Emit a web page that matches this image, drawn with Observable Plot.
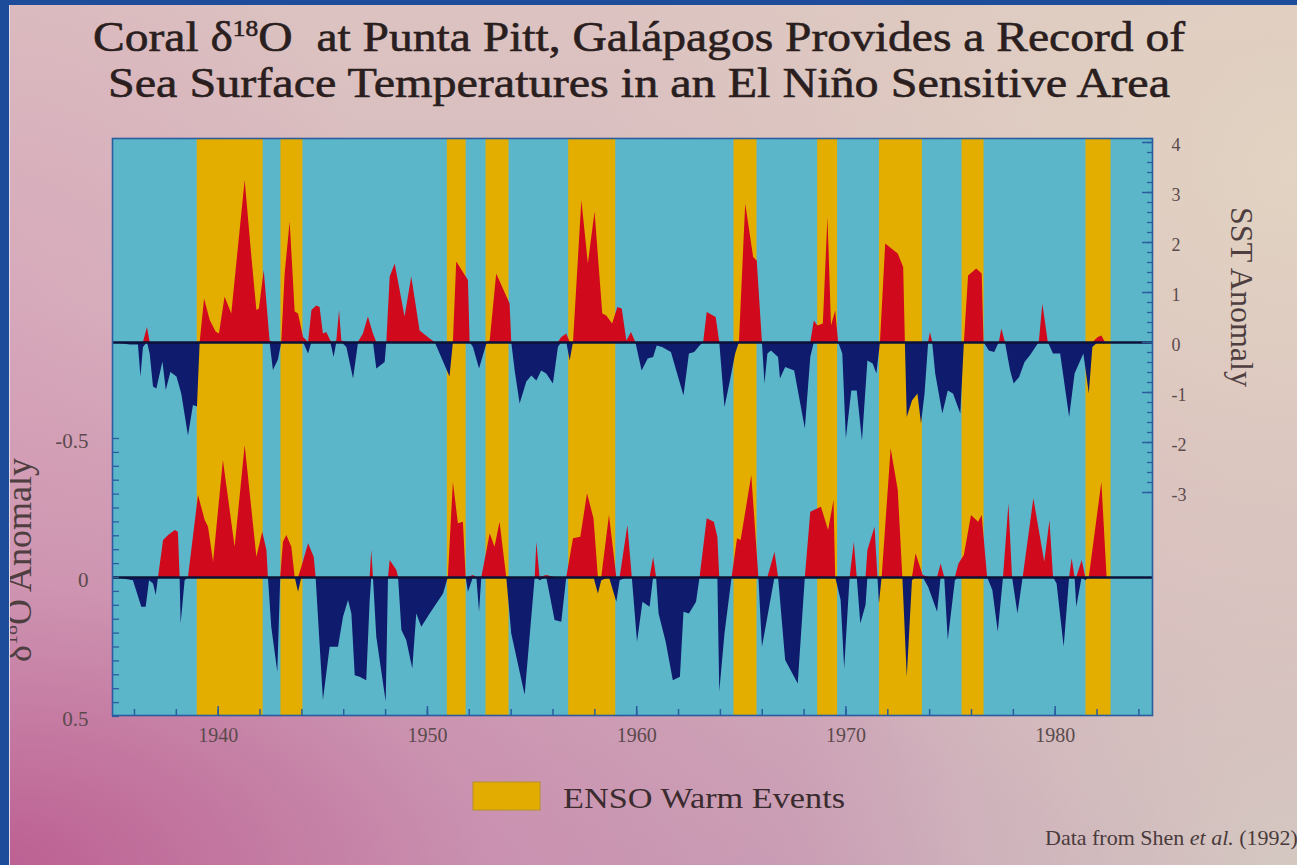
<!DOCTYPE html>
<html><head><meta charset="utf-8">
<script src="https://cdn.jsdelivr.net/npm/d3@7"></script>
<script src="https://cdn.jsdelivr.net/npm/@observablehq/plot@0.6"></script>
<style>
html,body{margin:0;padding:0;width:1297px;height:865px;overflow:hidden;}
#slide{position:relative;width:1297px;height:865px;overflow:hidden;
 background:
  radial-gradient(ellipse 75% 65% at 0% 100%, rgba(186,84,140,0.85), rgba(200,122,166,0.45) 50%, rgba(210,160,185,0) 100%),
  radial-gradient(ellipse 30% 60% at 0% 40%, rgba(214,160,184,0.7), rgba(214,160,184,0) 100%),
  radial-gradient(ellipse 55% 80% at 100% 20%, rgba(226,212,194,0.95), rgba(226,212,194,0) 100%),
  radial-gradient(ellipse 40% 50% at 100% 100%, rgba(214,204,194,0.9), rgba(214,204,194,0) 100%),
  linear-gradient(180deg, #dcc3c1 0%, #d5b4bd 55%, #caa3b7 100%);}
.layer{position:absolute;left:0;top:0;}
#bl{position:absolute;left:0;top:0;width:9px;height:865px;background:#1d4c9a;border-right:1.5px solid #e6dde6;}
#bt{position:absolute;left:0;top:0;width:1297px;height:5px;background:#1d4c9a;}
</style></head>
<body><div id="slide"></div>
<script>
// ---------- data ----------
const ensoStart = [1939.0, 1943.0, 1950.95, 1952.8, 1956.75, 1964.65, 1968.65, 1971.6, 1975.55, 1981.47];
const ensoEnd   = [1942.15, 1944.05, 1951.85, 1953.9, 1959.0, 1965.75, 1969.6, 1973.65, 1976.6, 1982.67];

const sstYear = [1935.0,1935.8,1936.19,1936.31,1936.43,1936.62,1936.75,1936.91,1937.07,1937.36,1937.52,1937.74,1938.03,1938.26,1938.58,1938.82,1939.01,1939.14,1939.35,1939.62,1939.90,1940.06,1940.33,1940.65,1940.97,1941.29,1941.61,1941.85,1941.97,1942.20,1942.48,1942.64,1942.88,1943.04,1943.20,1943.44,1943.68,1943.84,1944.08,1944.32,1944.48,1944.71,1944.87,1945.03,1945.19,1945.38,1945.54,1945.67,1945.80,1945.91,1946.15,1946.47,1946.70,1946.94,1947.18,1947.42,1947.58,1947.98,1948.06,1948.22,1948.46,1948.93,1949.25,1949.65,1950.13,1950.37,1951.08,1951.24,1951.40,1951.96,1952.04,1952.20,1952.49,1952.84,1953.00,1953.31,1953.95,1954.03,1954.19,1954.43,1954.75,1954.99,1955.23,1955.46,1955.70,1956.02,1956.26,1956.42,1956.66,1956.82,1956.98,1957.38,1957.69,1958.01,1958.38,1958.57,1958.85,1959.10,1959.31,1959.53,1959.75,1959.96,1960.26,1960.55,1960.81,1960.98,1961.24,1961.66,1962.26,1962.52,1962.77,1963.03,1963.20,1963.37,1963.80,1963.97,1964.22,1964.48,1964.73,1964.91,1965.21,1965.59,1965.76,1966.01,1966.13,1966.27,1966.44,1966.78,1966.87,1967.12,1967.55,1968.06,1968.32,1968.49,1968.66,1968.92,1969.14,1969.31,1969.51,1969.65,1969.85,1970.02,1970.28,1970.54,1970.79,1971.05,1971.30,1971.48,1971.65,1971.90,1972.50,1972.76,1972.84,1972.93,1973.18,1973.44,1973.61,1973.78,1973.95,1974.04,1974.15,1974.29,1974.63,1974.89,1975.14,1975.49,1975.66,1975.86,1976.25,1976.51,1976.60,1976.85,1977.11,1977.33,1977.45,1977.62,1977.87,1978.04,1978.30,1978.56,1978.81,1979.24,1979.41,1979.67,1979.92,1980.26,1980.69,1980.95,1981.37,1981.63,1981.80,1982.06,1982.23,1982.40];
const sstAnom = [0,-0.05,-0.05,-0.69,-0.1,0.3,-0.23,-0.89,-0.93,-0.39,-0.96,-0.6,-0.69,-1.03,-1.87,-1.26,-1.29,0,0.87,0.44,0.21,0.17,0.91,0.57,1.91,3.24,1.71,0.64,0.67,1.44,0.03,-0.56,-0.35,0,1.37,2.41,0.61,0.57,0.1,-0.23,0.64,0.73,0.7,0.17,0.2,0.03,-0.3,0.03,0.64,0.03,-0.1,-0.73,-0.03,0.17,0.51,0.17,-0.53,-0.4,0,1.31,1.57,0.51,1.31,0.23,0.07,0,-0.69,0,1.61,1.24,0,-0.1,-0.53,-0.03,0.03,1.37,0.77,0,-0.56,-1.23,-0.79,-0.67,-0.77,-0.57,-0.63,-0.83,-0.1,0.1,0.17,-0.37,0,2.84,1.57,2.61,0.57,0.53,0.37,0.7,0.67,0.03,0.2,0,-0.57,-0.33,-0.3,-0.07,-0.1,-0.2,-1.07,-0.23,-0.2,-0.07,0,0.6,0.5,0,-1.3,-0.77,-0.23,0,2.77,1.7,1.63,0,-0.83,-0.23,-0.17,-0.3,-0.73,-0.5,-0.57,-1.73,-0.3,0.43,0.33,0.37,2.5,0.33,0.63,0,-0.23,-1.93,-0.97,-0.97,-1.97,-0.37,-0.43,-0.63,0,1.97,1.77,1.5,0,-1.5,-1.17,-1.03,-1.63,-1.03,-0.03,0.2,-0.03,-0.63,-1.43,-0.97,-1.03,-1.43,0,1.33,1.47,1.37,0,-0.17,-0.2,0,0.27,0,-0.57,-0.83,-0.7,-0.4,-0.27,0,0.77,0,-0.23,-0.23,-1.5,-0.63,-0.23,-1.03,-0.1,0.1,0.13,0];

const d18Year = [1935.08,1935.95,1936.35,1936.56,1936.72,1936.91,1937.04,1937.15,1937.39,1937.63,1937.95,1938.10,1938.18,1938.23,1938.42,1938.58,1939.06,1939.38,1939.54,1939.78,1940.25,1940.81,1941.29,1941.85,1942.13,1942.33,1942.40,1942.56,1942.85,1942.99,1943.12,1943.28,1943.52,1943.68,1943.84,1944.00,1944.32,1944.59,1944.68,1945.03,1945.35,1945.75,1945.99,1946.23,1946.39,1946.55,1946.78,1947.10,1947.26,1947.34,1947.42,1947.58,1948.03,1948.14,1948.22,1948.54,1948.62,1948.78,1949.01,1949.30,1949.49,1949.73,1950.13,1950.77,1951.00,1951.24,1951.48,1951.72,1951.85,1951.96,1952.20,1952.36,1952.49,1952.60,1953.00,1953.23,1953.47,1953.79,1954.03,1954.67,1955.15,1955.23,1955.38,1955.70,1956.10,1956.42,1956.66,1956.98,1957.33,1957.65,1957.96,1958.17,1958.33,1958.70,1959.05,1959.21,1959.58,1959.79,1960.04,1960.30,1960.64,1960.81,1960.95,1961.07,1961.41,1961.75,1962.09,1962.26,1962.52,1962.86,1963.03,1963.37,1963.71,1963.88,1963.97,1964.22,1964.56,1964.82,1964.99,1965.50,1965.84,1966.01,1966.27,1966.61,1966.78,1967.12,1967.72,1968.06,1968.32,1968.83,1969.17,1969.43,1969.51,1969.77,1969.94,1970.20,1970.40,1970.54,1970.71,1970.96,1971.05,1971.39,1971.53,1971.60,1971.73,1972.16,1972.50,1972.72,1972.93,1973.18,1973.35,1973.69,1973.95,1974.38,1974.55,1974.72,1974.89,1975.23,1975.40,1975.66,1976.00,1976.34,1976.51,1976.77,1977.02,1977.28,1977.53,1977.79,1977.96,1978.22,1978.47,1978.98,1979.50,1979.75,1979.92,1980.09,1980.43,1980.69,1980.81,1980.95,1981.03,1981.29,1981.46,1981.63,1982.23,1982.48];
const d18Anom = [0,0.012,0.107,0.107,0.012,0.023,0.065,0,-0.133,-0.151,-0.169,-0.163,0,0.167,0.012,0,-0.295,-0.205,-0.181,-0.055,-0.421,-0.109,-0.475,-0.073,-0.163,-0.097,0,0.179,0.341,0,-0.127,-0.151,-0.109,0,0.053,-0.037,-0.121,-0.073,0,0.442,0.251,0.251,0.143,0.083,0.131,0.353,0.359,0.371,0.089,-0.097,0,0.215,0.448,0,-0.061,-0.025,0,0.191,0.227,0.329,0.131,0.179,0.131,0.059,0,-0.343,-0.193,-0.199,0,0.053,-0.007,0,0.125,0,-0.157,-0.109,-0.199,0,0.203,0.424,0,-0.127,0.012,-0.007,0.155,0.161,0,-0.139,-0.145,-0.301,-0.211,0.059,0.012,-0.223,0.089,0.012,-0.187,0,0.233,0.089,0.107,-0.072,0,0.131,0.233,0.371,0.359,0.125,0.131,0.089,0,-0.211,-0.199,-0.145,0.412,0.203,0,-0.139,-0.133,-0.367,0,0.251,0.143,-0.091,0,0.299,0.383,0,-0.235,-0.253,-0.169,-0.277,0,0.083,0.329,0,-0.127,0,0.167,0.101,-0.097,-0.181,0,0.095,0,-0.463,-0.313,0,0.359,0.012,-0.085,-0.007,0.035,0.125,-0.049,0,0.227,0.012,-0.049,-0.079,-0.223,-0.199,-0.223,0,0.047,0.197,0,-0.265,0,0.131,0,-0.283,-0.055,-0.205,0,0.023,0.251,0,-0.067,0,0.107,-0.061,0.012,0,-0.343,0];

const yearLabels = [1940, 1950, 1960, 1970, 1980];
const yearTicks = d3.range(1936, 1985, 2);
const sstLabels = [-3, -2, -1, 0, 1, 2, 3, 4];
const sstMinorTicks = d3.range(-15, 21).map(i => +(i * 0.2).toFixed(1));
const d18Labels = [-0.5, 0, 0.5];
const d18Ticks = d3.range(-10, 11).map(i => +(i * 0.05).toFixed(2));

// ---------- tables ----------
const enso = ensoStart.map((s, i) => ({start: s, end: ensoEnd[i]}));
const sst = sstYear.map((y, i) => ({year: y, v: sstAnom[i]}));
const d18 = d18Year.map((y, i) => ({year: y, v: d18Anom[i]}));

// ---------- layout ----------
const W = 1297, H = 865;
const fL = 112, fR = 1152, fT = 138, fB = 715;
const frameW = fR - fL, frameH = fB - fT;
const xDomain = [1934.95, 1984.65];
const sstZeroPx = 342, sstPxPerUnit = 50;
const sstDomain = [(sstZeroPx - fB) / sstPxPerUnit, (sstZeroPx - fT) / sstPxPerUnit];
const d18ZeroPx = 577, d18PxPerUnit = 278;
const d18Domain = [(fT - d18ZeroPx) / d18PxPerUnit, (fB - d18ZeroPx) / d18PxPerUnit];

const CYAN = "#5cb6ca", GOLD = "#e4ae00", RED = "#d00a1c", NAVY = "#0f1b6c";
const ZERO = "#0b1238", TICK = "#2b5c9e", LABEL = "#5b4a4c";
const FONT = "'Liberation Serif', 'Times New Roman', serif";

const common = {
  width: W, height: H,
  marginLeft: fL, marginRight: W - fR, marginTop: fT, marginBottom: H - fB,
  style: {background: "transparent", fontFamily: FONT, overflow: "visible"}
};

const slide = document.getElementById("slide");

const p1 = Plot.plot({
  ...common,
  x: {domain: xDomain},
  y: {domain: sstDomain},
  marks: [
    Plot.frame({fill: CYAN, stroke: null}),
    Plot.rect(enso, {x1: "start", x2: "end", fill: GOLD}),
    Plot.areaY(sst, {x: "year", y1: 0, y2: d => Math.max(0, d.v), fill: RED}),
    Plot.areaY(sst, {x: "year", y1: 0, y2: d => Math.min(0, d.v), fill: NAVY}),
    Plot.ruleY([0], {stroke: ZERO, strokeWidth: 2.5}),
    Plot.tickY(sstMinorTicks, {stroke: TICK, strokeWidth: 1.3, insetLeft: frameW - 5}),
    Plot.tickY(sstLabels, {stroke: TICK, strokeWidth: 1.5, insetLeft: frameW - 10}),
    Plot.tickX(yearTicks, {stroke: TICK, strokeWidth: 1.5, insetTop: frameH - 6}),
    Plot.tickX(yearLabels, {stroke: TICK, strokeWidth: 1.5, insetTop: frameH - 9}),
    Plot.axisY({anchor: "right", ticks: sstLabels, tickSize: 0, tickPadding: 19, dy: 3,
      tickFormat: d => String(d), color: LABEL, fontSize: 18}),
    Plot.axisX({anchor: "bottom", ticks: yearLabels, tickSize: 0, tickPadding: 12,
      tickFormat: d => String(d), color: LABEL, fontSize: 20})
  ]
});
p1.classList.add("layer");
slide.appendChild(p1);

const p2 = Plot.plot({
  ...common,
  x: {domain: xDomain, axis: null},
  y: {domain: d18Domain, reverse: true, axis: null},
  marks: [
    Plot.areaY(d18, {x: "year", y1: 0, y2: d => Math.min(0, d.v), fill: RED}),
    Plot.areaY(d18, {x: "year", y1: 0, y2: d => Math.max(0, d.v), fill: NAVY}),
    Plot.ruleY([0], {stroke: ZERO, strokeWidth: 2.5}),
    Plot.tickY(d18Ticks, {stroke: TICK, strokeWidth: 1.3, insetRight: frameW - 7}),
    Plot.axisY({anchor: "left", ticks: d18Labels, tickSize: 0, tickPadding: 24, dy: 3,
      tickFormat: d => String(d), color: LABEL, fontSize: 21}),
    Plot.frame({stroke: TICK, strokeWidth: 1.6})
  ]
});
p2.classList.add("layer");
slide.appendChild(p2);

// ---------- annotations ----------
const ann = d3.select(slide).append("svg").attr("class", "layer")
  .attr("width", W).attr("height", H).style("font-family", FONT);

const TITLE = "#2a1e1e";
const t1 = ann.append("text").attr("x", 93).attr("y", 51).attr("font-size", 43)
  .style("white-space", "pre")
  .attr("fill", TITLE).attr("stroke", TITLE).attr("stroke-width", 0.6)
  .attr("textLength", 1092).attr("lengthAdjust", "spacingAndGlyphs");
t1.append("tspan").text("Coral δ");
t1.append("tspan").attr("font-size", 23).attr("dy", -15).text("18");
t1.append("tspan").attr("dy", 15).text("O  at Punta Pitt, Galápagos Provides a Record of");
ann.append("text").attr("x", 108).attr("y", 97).attr("font-size", 43)
  .attr("fill", TITLE).attr("stroke", TITLE).attr("stroke-width", 0.6)
  .attr("textLength", 1062).attr("lengthAdjust", "spacingAndGlyphs")
  .text("Sea Surface Temperatures in an El Niño Sensitive Area");

// right axis title
ann.append("text").attr("transform", "translate(1231,297) rotate(90)")
  .attr("text-anchor", "middle").attr("font-size", 32).attr("fill", "#4e3e40")
  .text("SST Anomaly");
// left axis title (partly hidden behind the slide border, as in the photo)
const lt = ann.append("text").attr("transform", "translate(31,560) rotate(-90)")
  .attr("text-anchor", "middle").attr("font-size", 36).attr("fill", "#4e3e40");
lt.append("tspan").text("δ");
lt.append("tspan").attr("font-size", 20).attr("dy", -14).text("18");
lt.append("tspan").attr("dy", 14).text("O Anomaly");

// legend
ann.append("rect").attr("x", 473).attr("y", 782).attr("width", 67).attr("height", 28)
  .attr("fill", "#e2ad00").attr("stroke", "#b8902a").attr("stroke-width", 1);
ann.append("text").attr("x", 563).attr("y", 808).attr("font-size", 30).attr("fill", "#3a2c2e")
  .attr("textLength", 282).attr("lengthAdjust", "spacingAndGlyphs").text("ENSO Warm Events");

// caption (runs off the right edge in the photo)
const cap = ann.append("text").attr("x", 1045).attr("y", 845).attr("font-size", 22).attr("fill", "#4a3a3c");
cap.append("tspan").text("Data from Shen ");
cap.append("tspan").attr("font-style", "italic").text("et al.");
cap.append("tspan").text(" (1992)");

// slide border
const bl = document.createElement("div"); bl.id = "bl"; slide.appendChild(bl);
const bt = document.createElement("div"); bt.id = "bt"; slide.appendChild(bt);
</script>
</body></html>
